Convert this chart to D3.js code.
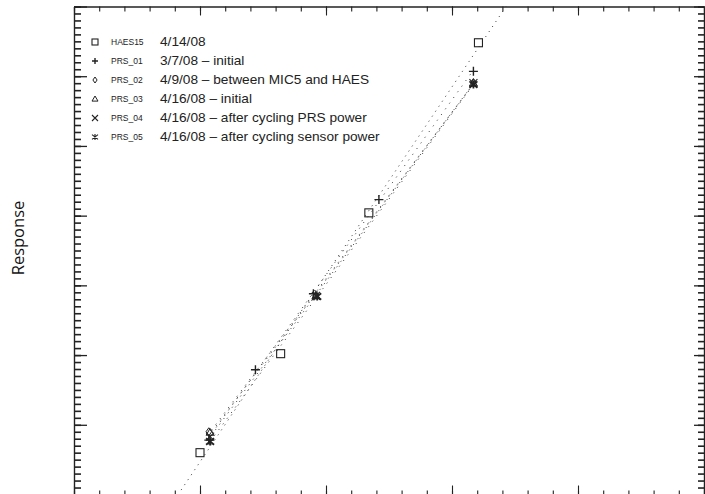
<!DOCTYPE html>
<meta charset="utf-8">
<style>
  body { margin: 0; background: #fff; }
  svg { display: block; }
</style>
<svg width="705" height="494"></svg>
<script src="https://cdn.jsdelivr.net/npm/d3@7"></script>
<script>

// series values (x, y in plot units; axis labels were cropped off the source)
var haes15 = [[1.00, 0.60], [1.64, 2.02], [2.34, 4.04], [3.21, 6.48]];
var prs01  = [[1.07, 0.78], [1.44, 1.79], [1.90, 2.88], [2.42, 4.23], [3.17, 6.07]];
var prs02  = [[1.07, 0.90], [1.92, 2.86], [3.17, 5.91]];
var prs03  = [[1.08, 0.89], [1.92, 2.85], [3.17, 5.90]];
var prs04  = [[1.08, 0.83], [1.92, 2.85], [3.17, 5.90]];
var prs05  = [[1.08, 0.76], [1.93, 2.84], [3.17, 5.88]];

var seriesNames = ["HAES15", "PRS_01", "PRS_02", "PRS_03", "PRS_04", "PRS_05"];
var seriesNotes = ["4/14/08", "3/7/08 \u2013 initial", "4/9/08 \u2013 between MIC5 and HAES",
                   "4/16/08 \u2013 initial", "4/16/08 \u2013 after cycling PRS power",
                   "4/16/08 \u2013 after cycling sensor power"];
var seriesData = [haes15, prs01, prs02, prs03, prs04, prs05];
var seriesMarks = ["square", "plus", "diamond", "triangle", "times", "star"];

var svg = d3.select("svg"),
    pL = 74, pR = 704, pT = 6.5, pB = 494.5;

var x = d3.scaleLinear().domain([0, 5]).range([pL, pR]),
    y = d3.scaleLinear().domain([0, 7]).range([pB, pT]);

var ink = "#222";

svg.append("clipPath").attr("id", "clip")
  .append("rect").attr("x", pL).attr("y", pT)
  .attr("width", pR - pL).attr("height", pB - pT);

// frame + inward ticks, major and minor
function tickAxis(axis, vals, size) {
  return axis.tickValues(vals).tickSize(size).tickSizeOuter(0).tickFormat("");
}
var xMinor = d3.range(0, 26).map(function(i) { return i / 5; }),
    xMajor = d3.range(0, 6),
    yMinor = d3.range(0, 71).map(function(i) { return i / 10; }),
    yMajor = d3.range(0, 8);

var axes = [
  [d3.axisTop(x), xMinor, 4, "translate(0," + pB + ")", 1.1],
  [d3.axisTop(x), xMajor, 9, "translate(0," + pB + ")", 1.1],
  [d3.axisBottom(x), xMinor, 5, "translate(0," + pT + ")", 1.1],
  [d3.axisBottom(x), xMajor, 9, "translate(0," + pT + ")", 1.1],
  [d3.axisRight(y), yMinor, 7, "translate(" + pL + ",0)", 1.6],
  [d3.axisRight(y), yMajor, 13, "translate(" + pL + ",0)", 1.3],
  [d3.axisLeft(y), yMinor, 6, "translate(" + pR + ",0)", 1.6],
  [d3.axisLeft(y), yMajor, 10, "translate(" + pR + ",0)", 1.3]
];
axes.forEach(function(a) {
  var g = svg.append("g").attr("transform", a[3])
    .call(tickAxis(a[0], a[1], a[2]));
  g.selectAll("line").attr("stroke", ink).attr("stroke-width", a[4]);
  g.select(".domain").attr("stroke", ink).attr("stroke-width", 1.2);
});

// least squares fit for each series, drawn dotted
function fit(pts) {
  var mx = d3.mean(pts, function(d) { return d[0]; }),
      my = d3.mean(pts, function(d) { return d[1]; }),
      sxy = d3.sum(pts, function(d) { return (d[0] - mx) * (d[1] - my); }),
      sxx = d3.sum(pts, function(d) { return (d[0] - mx) * (d[0] - mx); }),
      m = sxy / sxx;
  return function(v) { return my + m * (v - mx); };
}

var fits = svg.append("g").attr("clip-path", "url(#clip)");
seriesData.forEach(function(pts, i) {
  var f = fit(pts),
      x0 = i == 0 ? 0 : d3.min(pts, function(d) { return d[0]; }),
      x1 = i == 0 ? 5 : d3.max(pts, function(d) { return d[0]; });
  fits.append("line")
    .attr("x1", x(x0)).attr("y1", y(f(x0)))
    .attr("x2", x(x1)).attr("y2", y(f(x1)))
    .attr("stroke", "#333").attr("stroke-width", 1)
    .attr("stroke-dasharray", i == 0 ? "1,5" : "1,6")
    .attr("stroke-dashoffset", i * 1.3);
});

// marker shapes
function marker(g, type, s, w) {
  var h = s / 2;
  if (type == "square") {
    g.append("rect").attr("x", -h).attr("y", -h).attr("width", s).attr("height", s)
      .attr("fill", "none").attr("stroke", ink).attr("stroke-width", 1.1);
  } else if (type == "plus") {
    g.append("path").attr("d", "M" + (-h) + ",0H" + h + "M0," + (-h) + "V" + h)
      .attr("stroke", ink).attr("stroke-width", 1.4);
  } else if (type == "diamond") {
    g.append("path").attr("d", "M0," + (-h) + "L" + h * 0.7 + ",0L0," + h + "L" + (-h * 0.7) + ",0Z")
      .attr("fill", "none").attr("stroke", ink).attr("stroke-width", 1);
  } else if (type == "triangle") {
    g.append("path").attr("d", "M0," + (-h) + "L" + h + "," + h * 0.7 + "H" + (-h) + "Z")
      .attr("fill", "none").attr("stroke", ink).attr("stroke-width", 1);
  } else if (type == "times") {
    g.append("path").attr("d", "M" + (-h) + "," + (-h) + "L" + h + "," + h + "M" + h + "," + (-h) + "L" + (-h) + "," + h)
      .attr("stroke", ink).attr("stroke-width", 1.1);
  } else if (type == "star") {
    g.append("path").attr("d", "M" + (-h) + "," + (-h * 0.8) + "L" + h + "," + h * 0.8 + "M" + h + "," + (-h * 0.8) + "L" + (-h) + "," + h * 0.8 +
        "M0," + (-h) + "V" + h)
      .attr("stroke", ink).attr("stroke-width", w || 1.8);
  }
}

var marks = svg.append("g");
seriesData.forEach(function(pts, i) {
  pts.forEach(function(d) {
    var g = marks.append("g").attr("transform", "translate(" + x(d[0]) + "," + y(d[1]) + ")");
    marker(g, seriesMarks[i], i == 1 ? 9 : 8);
  });
});

// legend
var legend = svg.append("g");
seriesNames.forEach(function(name, i) {
  var ly = 42 + i * 19;
  var g = legend.append("g").attr("transform", "translate(95," + ly + ")");
  marker(g, seriesMarks[i], 6, 1.1);
  g.append("text").attr("x", 16).attr("y", 3)
    .attr("font-family", "Liberation Sans, Arial, sans-serif").attr("font-size", 8.5)
    .attr("fill", ink).text(name);
  g.append("text").attr("transform", "translate(65,4.3) scale(1.14,1)")
    .attr("font-family", "Liberation Sans, Arial, sans-serif").attr("font-size", 12)
    .attr("fill", ink).text(seriesNotes[i]);
});

// y title
svg.append("text")
  .attr("transform", "translate(24,238) rotate(-90)")
  .attr("text-anchor", "middle")
  .attr("font-family", "Open Sans, Noto Sans, sans-serif").attr("font-size", 16.5)
  .attr("fill", "#111")
  .text("Response");

</script>
